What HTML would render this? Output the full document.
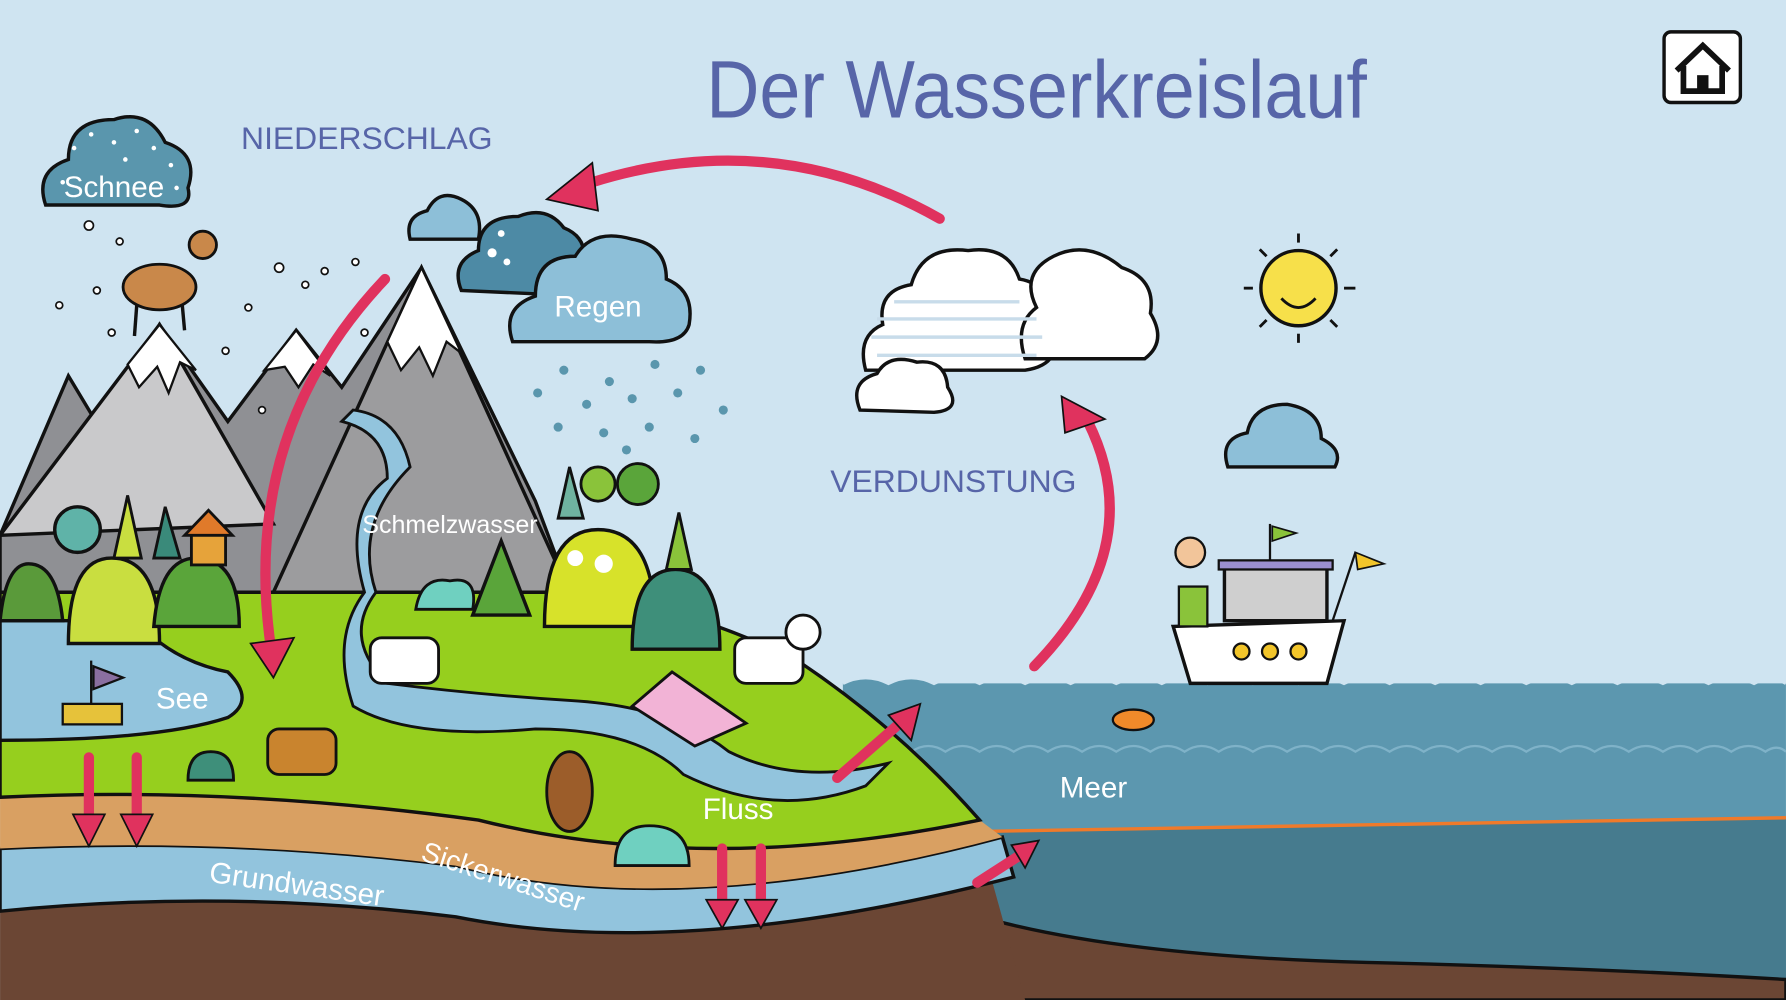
<!DOCTYPE html>
<html><head><meta charset="utf-8"><style>
html,body{margin:0;padding:0;background:#cfe4f1;overflow:hidden}
svg{display:block}
text{font-family:"Liberation Sans",sans-serif}
</style></head><body>
<svg width="1786" height="1000" viewBox="0 0 1568 878" xmlns="http://www.w3.org/2000/svg">
<rect width="1568" height="878" fill="#cfe4f1"/>
<!-- sea -->
<path d="M740,600 Q760,590 780,600 Q800,590 820,600 L1568,600 L1568,878 L740,878 Z" fill="#5c97af"/>
<path d="M860,730 L1568,718 L1568,878 L860,878 Z" fill="#467b8e"/>
<path d="M880,810 Q1000,840 1200,845 Q1400,850 1568,860 L1568,878 L880,878 Z" fill="#6b4634" stroke="#111" stroke-width="3"/>
<path d="M860,730 L1568,718" stroke="#f07a2a" stroke-width="3"/>
<path d="M740,600 Q760,590 780,600 Q800,590 820,600 Q840,590 860,600 Q880,590 900,600 Q920,590 940,600 Q960,590 980,600 Q1000,590 1020,600 Q1040,590 1060,600 Q1080,590 1100,600 Q1120,590 1140,600 Q1160,590 1180,600 Q1200,590 1220,600 Q1240,590 1260,600 Q1280,590 1300,600 Q1320,590 1340,600 Q1360,590 1380,600 Q1400,590 1420,600 Q1440,590 1460,600 Q1480,590 1500,600 Q1520,590 1540,600 Q1555,592 1568,600" fill="none" stroke="#cfe4f1" stroke-width="3"/>
<path d="M800,660 Q815,650 830,660 Q845,650 860,660 Q875,650 890,660 Q905,650 920,660 Q935,650 950,660 Q965,650 980,660 Q995,650 1010,660 Q1025,650 1040,660 Q1055,650 1070,660 Q1085,650 1100,660 Q1115,650 1130,660 Q1145,650 1160,660 Q1175,650 1190,660 Q1205,650 1220,660 Q1235,650 1250,660 Q1265,650 1280,660 Q1295,650 1310,660 Q1325,650 1340,660 Q1355,650 1370,660 Q1385,650 1400,660 Q1415,650 1430,660 Q1445,650 1460,660 Q1475,650 1490,660 Q1505,650 1520,660 Q1535,650 1550,660 Q1560,653 1568,660" fill="none" stroke="#7fb2c8" stroke-width="2"/>
<!-- mountains -->
<polygon points="0,470 60,330 90,380 140,285 200,370 260,290 300,340 370,235 470,440 500,520 0,540" fill="#8f9094" stroke="#111" stroke-width="3"/>
<polygon points="0,470 140,285 240,460" fill="#c9c9cb" stroke="#111" stroke-width="3"/>
<polygon points="240,520 370,235 500,520" fill="#9c9c9e" stroke="#111" stroke-width="3"/>
<polygon points="112,320 140,285 172,325 158,318 148,345 138,322 122,340" fill="#fff" stroke="#111" stroke-width="2"/>
<polygon points="340,300 370,235 405,310 392,300 380,330 368,305 352,325" fill="#fff" stroke="#111" stroke-width="2"/>
<polygon points="232,325 260,290 290,330 275,320 262,340 250,322" fill="#fff" stroke="#111" stroke-width="2"/>
<!-- ground layers -->
<path d="M0,800 Q200,780 400,800 Q600,840 870,770 L900,878 L0,878 Z" fill="#6b4634"/>
<path d="M0,745 Q200,735 400,760 Q600,810 880,735 L890,770 Q600,845 400,805 Q200,780 0,800 Z" fill="#92c4dd" stroke="#111" stroke-width="3"/>
<path d="M0,700 Q200,690 420,720 Q620,770 860,720 L880,735 Q600,810 400,760 Q200,735 0,745 Z" fill="#d9a062"/>
<path d="M0,700 Q200,690 420,720 Q620,770 860,720" fill="none" stroke="#f07a2a" stroke-width="3"/>
<!-- green land -->
<path d="M0,520 L520,520 Q620,540 700,580 Q790,640 860,720 Q620,770 420,720 Q200,690 0,700 Z" fill="#96cf1e" stroke="#111" stroke-width="3"/>
<!-- lake -->
<path d="M0,545 L120,545 Q150,580 200,590 Q225,615 200,630 Q140,650 0,650 Z" fill="#92c4dd" stroke="#111" stroke-width="3"/>
<!-- river -->
<path d="M300,370 Q340,380 340,420 Q300,450 320,520 Q290,560 310,620 Q360,650 470,640 Q560,640 600,680 Q680,720 760,690 L780,670 Q700,690 640,660 Q590,620 500,615 Q420,610 340,600 Q300,560 330,520 Q310,460 360,410 Q350,365 310,360 Z" fill="#92c4dd" stroke="#111" stroke-width="2.5"/>
<!-- hills & trees -->
<path d="M0,545 Q5,495 25,495 Q50,495 55,545 Z" fill="#5a9a3a" stroke="#111" stroke-width="3"/>
<path d="M60,565 Q60,490 98,490 Q140,490 140,565 Z" fill="#c9de40" stroke="#111" stroke-width="3"/>
<path d="M135,550 Q140,490 172,490 Q210,490 210,550 Z" fill="#5aa53a" stroke="#111" stroke-width="3"/>
<circle cx="68" cy="465" r="20" fill="#5fb3a8" stroke="#111" stroke-width="3"/>
<polygon points="100,490 112,435 124,490" fill="#c9de40" stroke="#111" stroke-width="2.5"/>
<polygon points="135,490 145,445 158,490" fill="#3a8a7a" stroke="#111" stroke-width="2.5"/>
<rect x="168" y="468" width="30" height="28" fill="#e6a33a" stroke="#111" stroke-width="2.5"/>
<polygon points="162,470 183,448 204,470" fill="#e07a2a" stroke="#111" stroke-width="2.5"/>
<path d="M478,550 Q478,465 525,465 Q575,465 575,550 Z" fill="#d7e22a" stroke="#111" stroke-width="3"/>
<circle cx="505" cy="490" r="7" fill="#fff"/><circle cx="530" cy="495" r="8" fill="#fff"/>
<path d="M555,570 Q555,500 593,500 Q632,500 632,570 Z" fill="#3e8f7a" stroke="#111" stroke-width="3"/>
<polygon points="415,540 440,475 465,540" fill="#5aa53a" stroke="#111" stroke-width="3"/>
<circle cx="525" cy="425" r="15" fill="#8ac33a" stroke="#111" stroke-width="2.5"/>
<circle cx="560" cy="425" r="18" fill="#5aa53a" stroke="#111" stroke-width="2.5"/>
<polygon points="585,500 596,450 607,500" fill="#8ac33a" stroke="#111" stroke-width="2.5"/>
<polygon points="490,455 500,410 512,455" fill="#6fb3a0" stroke="#111" stroke-width="2.5"/>
<path d="M365,535 Q370,505 395,510 Q420,505 415,535 Z" fill="#6fd0c0" stroke="#111" stroke-width="2.5"/>
<path d="M540,760 Q540,725 570,725 Q605,725 605,760 Z" fill="#6fd0c0" stroke="#111" stroke-width="2.5"/>
<path d="M165,685 Q165,660 185,660 Q205,660 205,685 Z" fill="#3e8f7a" stroke="#111" stroke-width="2.5"/>
<!-- tent -->
<polygon points="555,620 590,590 655,635 610,655" fill="#f2b3d6" stroke="#111" stroke-width="2.5"/>
<!-- animals simplified -->
<rect x="325" y="560" width="60" height="40" rx="10" fill="#fff" stroke="#111" stroke-width="2.5"/>
<rect x="645" y="560" width="60" height="40" rx="10" fill="#fff" stroke="#111" stroke-width="2.5"/>
<circle cx="705" cy="555" r="15" fill="#fff" stroke="#111" stroke-width="2.5"/>
<rect x="235" y="640" width="60" height="40" rx="10" fill="#c9842e" stroke="#111" stroke-width="2.5"/>
<ellipse cx="500" cy="695" rx="20" ry="35" fill="#9c5d2a" stroke="#111" stroke-width="2.5"/>
<!-- boat on lake -->
<rect x="55" y="618" width="52" height="18" fill="#e6c23a" stroke="#111" stroke-width="2"/>
<line x1="80" y1="618" x2="80" y2="580" stroke="#111" stroke-width="2"/>
<polygon points="82,585 108,595 82,605" fill="#8a6fa0" stroke="#111" stroke-width="2"/>
<!-- ship -->
<path d="M1030,550 L1180,545 L1165,600 L1045,600 Z" fill="#fff" stroke="#111" stroke-width="3"/>
<rect x="1075" y="495" width="90" height="50" fill="#cfcfcf" stroke="#111" stroke-width="3"/>
<rect x="1070" y="492" width="100" height="8" fill="#9b8fd0" stroke="#111" stroke-width="2"/>
<circle cx="1090" cy="572" r="7" fill="#f2c52a" stroke="#111" stroke-width="2"/>
<circle cx="1115" cy="572" r="7" fill="#f2c52a" stroke="#111" stroke-width="2"/>
<circle cx="1140" cy="572" r="7" fill="#f2c52a" stroke="#111" stroke-width="2"/>
<line x1="1115" y1="492" x2="1115" y2="460" stroke="#111" stroke-width="2"/>
<polygon points="1117,462 1138,468 1117,475" fill="#8ac33a" stroke="#111" stroke-width="1.5"/>
<line x1="1170" y1="545" x2="1190" y2="485" stroke="#111" stroke-width="2"/>
<polygon points="1190,485 1215,495 1192,500" fill="#f2c52a" stroke="#111" stroke-width="1.5"/>
<rect x="1035" y="515" width="25" height="35" fill="#8ac33a" stroke="#111" stroke-width="2"/>
<circle cx="1045" cy="485" r="13" fill="#f2c59a" stroke="#111" stroke-width="2"/>
<!-- fish -->
<ellipse cx="995" cy="632" rx="18" ry="9" fill="#f08a2a" stroke="#111" stroke-width="2"/>
<!-- clouds -->
<g stroke="#111" stroke-width="3">
<path d="M40,180 Q30,150 60,140 Q60,105 100,105 Q130,95 145,125 Q175,135 165,165 Q170,185 140,180 Z" fill="#5a96ad"/>
<path d="M360,210 Q355,190 375,185 Q385,165 405,175 Q425,185 420,210 Z" fill="#8dbfd8"/>
<path d="M405,255 Q395,230 420,220 Q420,190 455,190 Q480,180 495,200 Q520,210 510,240 Q500,260 470,258 Z" fill="#4d8aa5"/>
<path d="M450,300 Q440,270 470,260 Q470,225 505,225 Q520,200 555,210 Q585,215 585,245 Q610,255 605,285 Q600,302 570,300 Z" fill="#8dbfd8"/>
<path d="M760,325 Q752,295 775,285 Q770,255 800,250 Q810,215 850,220 Q885,215 895,245 Q925,250 925,285 Q935,320 900,325 Z" fill="#fff"/>
<path d="M900,315 Q890,285 910,270 Q895,240 925,225 Q955,210 985,235 Q1015,245 1010,275 Q1025,300 1005,315 Z" fill="#fff"/>
<path d="M755,360 Q745,335 770,328 Q780,310 805,318 Q830,315 832,340 Q845,360 820,362 Z" fill="#fff"/>
<path d="M1078,410 Q1070,385 1095,380 Q1100,355 1130,355 Q1160,360 1160,385 Q1180,395 1172,410 Z" fill="#8dbfd8"/>
</g>
<g fill="#fff"><circle cx="65" cy="130" r="2"/><circle cx="80" cy="118" r="2"/><circle cx="100" cy="125" r="2"/><circle cx="120" cy="115" r="2"/><circle cx="135" cy="130" r="2"/><circle cx="150" cy="145" r="2"/><circle cx="55" cy="160" r="2"/><circle cx="155" cy="165" r="2"/><circle cx="110" cy="140" r="2"/><circle cx="432" cy="222" r="4"/><circle cx="445" cy="230" r="3"/><circle cx="440" cy="205" r="3"/></g>
<g stroke="#c8dcea" stroke-width="3"><line x1="785" y1="265" x2="895" y2="265"/><line x1="770" y1="280" x2="910" y2="280"/><line x1="765" y1="296" x2="915" y2="296"/><line x1="770" y1="312" x2="910" y2="312"/></g>
<!-- rain drops -->
<g fill="#5a96ad">
<circle cx="472" cy="345" r="4"/><circle cx="495" cy="325" r="4"/><circle cx="515" cy="355" r="4"/><circle cx="535" cy="335" r="4"/><circle cx="555" cy="350" r="4"/><circle cx="575" cy="320" r="4"/><circle cx="595" cy="345" r="4"/><circle cx="615" cy="325" r="4"/><circle cx="635" cy="360" r="4"/><circle cx="490" cy="375" r="4"/><circle cx="530" cy="380" r="4"/><circle cx="570" cy="375" r="4"/><circle cx="610" cy="385" r="4"/><circle cx="550" cy="395" r="4"/>
</g>
<!-- snow -->
<g fill="#fff" stroke="#111" stroke-width="1.5">
<circle cx="78" cy="198" r="4"/><circle cx="105" cy="212" r="3"/><circle cx="52" cy="268" r="3"/><circle cx="85" cy="255" r="3"/><circle cx="98" cy="292" r="3"/><circle cx="245" cy="235" r="4"/><circle cx="268" cy="250" r="3"/><circle cx="285" cy="238" r="3"/><circle cx="218" cy="270" r="3"/><circle cx="312" cy="230" r="3"/><circle cx="198" cy="308" r="3"/><circle cx="230" cy="360" r="3"/><circle cx="320" cy="292" r="3"/>
</g>
<!-- goat -->
<ellipse cx="140" cy="252" rx="32" ry="20" fill="#c9884a" stroke="#111" stroke-width="2.5"/>
<circle cx="178" cy="215" r="12" fill="#c9884a" stroke="#111" stroke-width="2.5"/>
<line x1="120" y1="268" x2="118" y2="295" stroke="#111" stroke-width="3"/><line x1="160" y1="268" x2="162" y2="290" stroke="#111" stroke-width="3"/>
<!-- sun -->
<circle cx="1140" cy="253" r="33" fill="#f7e04a" stroke="#111" stroke-width="3"/>
<g stroke="#111" stroke-width="2.5"><line x1="1140" y1="205" x2="1140" y2="213"/><line x1="1140" y1="293" x2="1140" y2="301"/><line x1="1092" y1="253" x2="1100" y2="253"/><line x1="1180" y1="253" x2="1190" y2="253"/><line x1="1106" y1="219" x2="1112" y2="225"/><line x1="1168" y1="281" x2="1174" y2="287"/><line x1="1174" y1="219" x2="1168" y2="225"/><line x1="1106" y1="287" x2="1112" y2="281"/></g>
<path d="M1125,262 Q1140,278 1155,262" fill="none" stroke="#111" stroke-width="2.5"/>
<!-- arrows -->
<g fill="none" stroke="#e0325e" stroke-width="9" stroke-linecap="round">
<path d="M825,192 Q680,110 520,160"/>
<path d="M338,245 Q210,380 238,570"/>
<path d="M908,585 Q1010,480 955,370"/>
<path d="M735,683 L790,635"/><path d="M858,775 L900,748"/>
<path d="M78,665 L78,720"/><path d="M120,665 L120,720"/><path d="M634,745 L634,795"/><path d="M668,745 L668,795"/>
</g>
<g fill="#e0325e" stroke="#111" stroke-width="1.5">
<polygon points="480,175 520,143 525,185"/>
<polygon points="220,565 258,560 240,595"/>
<polygon points="932,348 970,368 935,380"/>
<polygon points="808,618 800,650 780,628"/>
<polygon points="912,738 900,762 888,742"/>
<polygon points="64,715 92,715 78,743"/><polygon points="106,715 134,715 120,743"/>
<polygon points="620,790 648,790 634,815"/><polygon points="654,790 682,790 668,815"/>
</g>
<!-- labels -->
<text x="620" y="103" font-size="72" fill="#5765a8" textLength="580" lengthAdjust="spacingAndGlyphs">Der Wasserkreislauf</text>
<text x="322" y="131" text-anchor="middle" font-size="28" fill="#5765a8">NIEDERSCHLAG</text>
<text x="837" y="432" text-anchor="middle" font-size="28" fill="#5765a8">VERDUNSTUNG</text>
<g fill="#fff" font-size="26">
<text x="100" y="173" text-anchor="middle">Schnee</text>
<text x="525" y="278" text-anchor="middle">Regen</text>
<text x="395" y="468" text-anchor="middle" font-size="22">Schmelzwasser</text>
<text x="160" y="622" text-anchor="middle">See</text>
<text x="648" y="719" text-anchor="middle">Fluss</text>
<text x="960" y="700" text-anchor="middle">Meer</text>
<text x="260" y="785" text-anchor="middle" transform="rotate(8 260 780)">Grundwasser</text>
<text x="440" y="778" text-anchor="middle" transform="rotate(18 440 775)" font-size="25">Sickerwasser</text>
</g>
<!-- home button -->
<rect x="1461" y="28" width="67" height="62" rx="6" fill="#fff" stroke="#111" stroke-width="3"/>
<path d="M1472,62 L1495,40 L1518,62 M1478,58 L1478,80 L1512,80 L1512,58" fill="none" stroke="#111" stroke-width="5"/>
<rect x="1490" y="66" width="10" height="14" fill="#111"/>
</svg>
</body></html>
